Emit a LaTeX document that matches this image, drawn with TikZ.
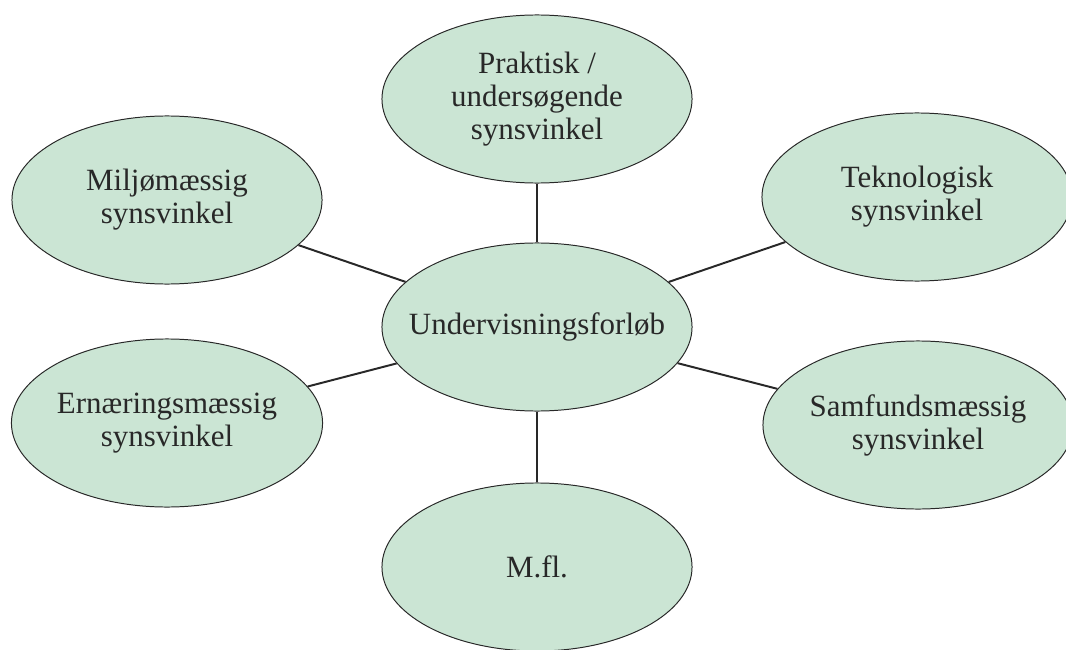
\documentclass[tikz,border=0pt]{standalone}
\usepackage{fontspec}
\setmainfont{Liberation Serif}
\usepackage{tikz}
\usetikzlibrary{shapes.geometric}
\definecolor{bubblefill}{RGB}{203,229,212}
\definecolor{inkgray}{RGB}{40,40,40}
\tikzset{
	bubble/.style={ellipse, draw=inkgray, line width=0.7pt, fill=bubblefill,
		minimum width=7.75cm, minimum height=4.2cm, inner sep=0pt,
		align=center, text=inkgray, font=\fontsize{22}{23.5}\selectfont},
	spoke/.style={line width=1.4pt, color=inkgray}
}

\begin{document}
\begin{tikzpicture}[x=0.025cm, y=-0.025cm]
			%%%%% START %%%%%
			
			\useasboundingbox (0, 0) rectangle (1066, 650);
			
			\node[bubble, inner xsep=-0.8cm] (hub) at (537, 327) {Undervisningsforløb};
			
			\node[bubble] (praktisk) at (537, 99) {Praktisk /\\undersøgende\\synsvinkel};
			\node[bubble] (miljo) at (167, 200) {Miljømæssig\\synsvinkel};
			\node[bubble] (teknologi) at (917, 197) {Teknologisk\\synsvinkel};
			\node[bubble] (ernaering) at (167, 423) {Ernæringsmæssig\\synsvinkel};
			\node[bubble] (samfund) at (918, 425) {Samfundsmæssig\\synsvinkel};
			\node[bubble] (mfl) at (537, 567) {M.fl.};
			
			\draw[spoke] (hub) -- (praktisk);
			\draw[spoke] (hub) -- (miljo);
			\draw[spoke] (hub) -- (teknologi);
			\draw[spoke] (hub) -- (ernaering);
			\draw[spoke] (hub) -- (samfund);
			\draw[spoke] (hub) -- (mfl);
			
			%%%%% END %%%%%
\end{tikzpicture}
\end{document}
